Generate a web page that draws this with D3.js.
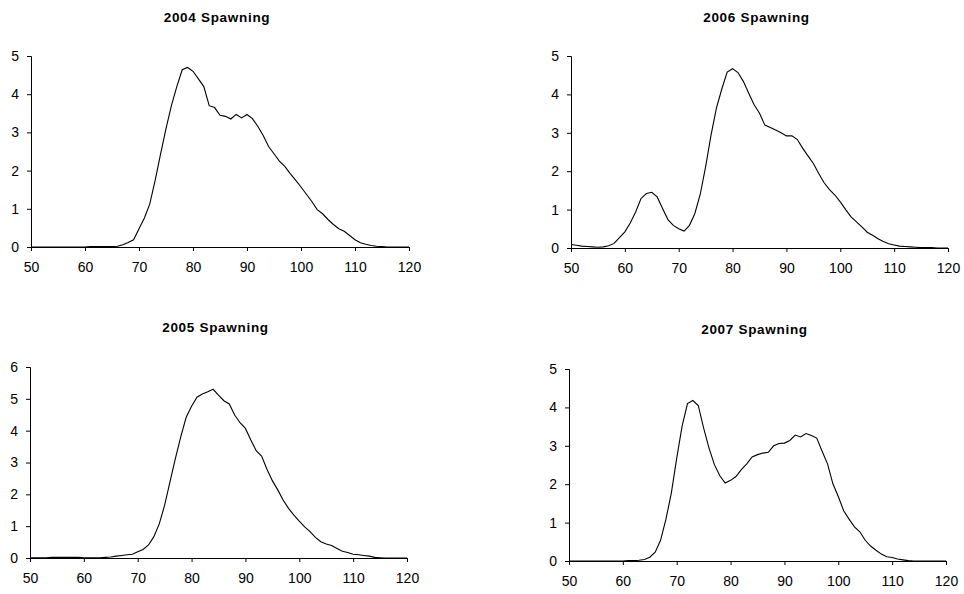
<!DOCTYPE html>
<html lang="en">
  <head>
    <meta charset="UTF-8" />
    <title>Spawning</title>
    <script src="https://d3js.org/d3.v7.min.js"></script>
    <style>
      body { margin: 0; background: #fff; }
      svg { font-family: Arial, "Liberation Sans", sans-serif; }
      .title { font-size: 13.5px; font-weight: bold; letter-spacing: 0.7px; }
      .axis text { font-size: 14px; fill: #000; }
      .axis path, .axis line { stroke: #000; }
      .curve { fill: none; stroke: #000; stroke-width: 1.1; }
    </style>
  </head>
  <body>
    <svg width="964" height="594"></svg>

<script>

// length (x) values shared by all four panels
var lengths = [50, 51, 52, 53, 54, 55, 56, 57, 58, 59,
               60, 61, 62, 63, 64, 65, 66, 67, 68, 69,
               70, 71, 72, 73, 74, 75, 76, 77, 78, 79,
               80, 81, 82, 83, 84, 85, 86, 87, 88, 89,
               90, 91, 92, 93, 94, 95, 96, 97, 98, 99,
               100, 101, 102, 103, 104, 105, 106, 107, 108, 109,
               110, 111, 112, 113, 114, 115, 116, 117, 118, 119, 120];

var xTicks = [50, 60, 70, 80, 90, 100, 110, 120];
var yTicks5 = [0, 1, 2, 3, 4, 5];
var yTicks6 = [0, 1, 2, 3, 4, 5, 6];

var titles = ["2004 Spawning", "2006 Spawning", "2005 Spawning", "2007 Spawning"];

var s2004 = [0, 0, 0, 0, 0, 0, 0, 0, 0, 0,
             0, 0.01, 0.01, 0.01, 0.01, 0.01, 0.02, 0.06, 0.12, 0.19,
             0.48, 0.76, 1.13, 1.75, 2.44, 3.1, 3.7, 4.2, 4.64, 4.7,
             4.6, 4.4, 4.2, 3.7, 3.65, 3.45, 3.42, 3.35, 3.47, 3.38,
             3.47, 3.36, 3.16, 2.92, 2.63, 2.44, 2.25, 2.11, 1.92, 1.75,
             1.57, 1.38, 1.19, 0.98, 0.87, 0.72, 0.59, 0.48, 0.41, 0.3,
             0.19, 0.11, 0.07, 0.04, 0.02, 0.01, 0, 0, 0, 0, 0];

var s2006 = [0.09, 0.07, 0.05, 0.04, 0.03, 0.02, 0.03, 0.06, 0.12, 0.27,
             0.42, 0.65, 0.94, 1.29, 1.42, 1.45, 1.33, 1.03, 0.74, 0.59,
             0.5, 0.44, 0.59, 0.9, 1.4, 2.12, 2.94, 3.64, 4.14, 4.58,
             4.67, 4.57, 4.34, 4.03, 3.73, 3.51, 3.2, 3.14, 3.07, 3.0,
             2.92, 2.92, 2.83, 2.6, 2.4, 2.2, 1.94, 1.7, 1.52, 1.38,
             1.2, 1.0, 0.81, 0.68, 0.55, 0.41, 0.33, 0.24, 0.17, 0.11,
             0.08, 0.05, 0.04, 0.03, 0.02, 0.01, 0.01, 0.01, 0, 0, 0];

var s2005 = [0.01, 0.01, 0.01, 0.01, 0.02, 0.02, 0.02, 0.02, 0.02, 0.02,
             0.01, 0.01, 0.01, 0.01, 0.02, 0.03, 0.06, 0.08, 0.1, 0.12,
             0.2, 0.27, 0.41, 0.67, 1.07, 1.66, 2.4, 3.13, 3.81, 4.42,
             4.77, 5.05, 5.15, 5.22, 5.3, 5.12, 4.94, 4.84, 4.49, 4.25,
             4.07, 3.71, 3.37, 3.2, 2.79, 2.43, 2.14, 1.82, 1.56, 1.35,
             1.16, 0.98, 0.83, 0.65, 0.51, 0.44, 0.39, 0.3, 0.21, 0.17,
             0.12, 0.1, 0.08, 0.06, 0.02, 0.01, 0, 0, 0, 0, 0];

var s2007 = [0, 0, 0, 0, 0, 0, 0, 0, 0, 0,
             0, 0.01, 0.01, 0.02, 0.04, 0.1, 0.23, 0.54, 1.09, 1.77,
             2.68, 3.51, 4.1, 4.18, 4.05, 3.46, 2.94, 2.51, 2.22, 2.03,
             2.1, 2.2, 2.38, 2.53, 2.71, 2.77, 2.81, 2.83, 3.0, 3.06,
             3.07, 3.14, 3.28, 3.23, 3.32, 3.27, 3.2, 2.86, 2.53, 2.01,
             1.68, 1.31, 1.09, 0.89, 0.76, 0.54, 0.39, 0.28, 0.18, 0.11,
             0.09, 0.05, 0.03, 0.01, 0, 0, 0, 0, 0, 0, 0];

var seriesList = [s2004, s2006, s2005, s2007];
var yTickList = [yTicks5, yTicks5, yTicks6, yTicks5];

// plot boxes in page pixels: left, right, top, bottom, title baseline
var boxes = [
  {l: 31, r: 409, t: 56, b: 247, ty: 22},
  {l: 571, r: 948, t: 56, b: 248, ty: 22},
  {l: 30, r: 407, t: 367, b: 558, ty: 332},
  {l: 569, r: 946, t: 369, b: 561, ty: 334}
];

var svg = d3.select("svg");

seriesList.forEach(function(values, i) {
    var box = boxes[i],
        yt = yTickList[i];

    var xScale = d3.scaleLinear().domain([50, 120]).range([box.l, box.r]),
        yScale = d3.scaleLinear().domain([0, d3.max(yt)]).range([box.b, box.t]);

    var g = svg.append("g");

    g.append("text")
     .attr("class", "title")
     .attr("x", (box.l + box.r) / 2 - 3)
     .attr("y", box.ty)
     .attr("text-anchor", "middle")
     .text(titles[i]);

    g.append("g")
     .attr("class", "axis")
     .attr("transform", "translate(0," + box.b + ")")
     .call(d3.axisBottom(xScale).tickValues(xTicks).tickFormat(d3.format("d"))
           .tickSize(4).tickSizeOuter(4).tickPadding(11));

    g.append("g")
     .attr("class", "axis")
     .attr("transform", "translate(" + box.l + ",0)")
     .call(d3.axisLeft(yScale).tickValues(yt).tickFormat(d3.format("d"))
           .tickSize(4).tickSizeOuter(4).tickPadding(8));

    var line = d3.line()
        .x(function(d, j) { return xScale(lengths[j]); })
        .y(function(d) { return yScale(d); });

    g.append("path")
     .datum(values)
     .attr("class", "curve")
     .attr("d", line);
});

</script>

  </body>
</html>
